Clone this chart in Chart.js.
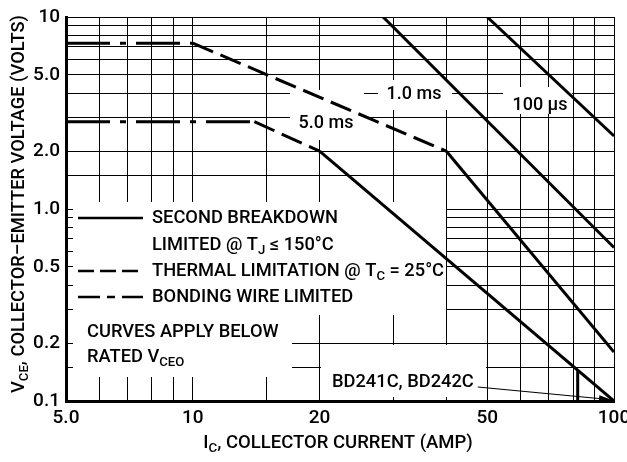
<!DOCTYPE html>
<html>
<head>
<meta charset="utf-8">
<script src="https://cdn.jsdelivr.net/npm/chart.js@4.4.1/dist/chart.umd.min.js"></script>
<style>
  html, body { margin: 0; padding: 0; background: #fff; }
  #wrap { width: 627px; height: 462px; position: relative; }
</style>
</head>
<body>
<div id="wrap"><canvas id="soa"></canvas></div>
<script>
const xGrid = [5, 6, 7, 8, 9, 10, 15, 20, 30, 40, 50, 60, 70, 80, 90, 100];
const yGrid = [0.1, 0.15, 0.2, 0.3, 0.4, 0.5, 0.6, 0.7, 0.8, 0.9, 1, 1.5, 2, 3, 4, 5, 6, 7, 8, 9, 10];
const xTickValues = [5, 10, 20, 50, 100];
const xTickLabels = ['5.0', '10', '20', '50', '100'];
const yTickValues = [0.1, 0.2, 0.5, 1, 2, 5, 10];
const yTickLabels = ['0.1', '0.2', '0.5', '1.0', '2.0', '5.0', '10'];

// curva superior
const upperBondX = [5, 10];     const upperBondY = [7.3, 7.3];
const upperThermX = [10, 40];   const upperThermY = [7.3, 2.0];
const upperSbX = [40, 100];     const upperSbY = [2.0, 0.18];
// curva inferior
const lowerBondX = [5, 14];     const lowerBondY = [2.85, 2.85];
const lowerThermX = [14, 20];   const lowerThermY = [2.85, 2.0];
const lowerSbX = [20, 100];     const lowerSbY = [2.0, 0.1];
// pulsos
const pulse1msX = [28.3, 100];  const pulse1msY = [10, 0.63];
const pulse100usX = [50, 100];  const pulse100usY = [10, 2.4];
// limite BD241C / BD242C
const bdLimitX = [82, 82];      const bdLimitY = [0.145, 0.1];

const FONT = 'Roboto, "Liberation Sans", Arial, sans-serif';
const WEIGHT = '500 ';
const SOLID = [];
const DASH = [22, 8];
const DASHDOT = [44, 10, 6, 10];

function pts(xs, ys) {
    return xs.map((x, i) => ({ x: x, y: ys[i] }));
}

function line(xs, ys, dash) {
    return {
        data: pts(xs, ys),
        showLine: true,
        borderColor: '#000',
        borderWidth: 3,
        borderDash: dash,
        borderCapStyle: 'butt',
        pointRadius: 0,
        fill: false
    };
}

// cajas blancas que tapan la reticula detras de los textos
const whiteBoxes = [
    [73, 202, 446, 315],
    [73, 315, 292, 377],
    [321, 345, 486, 397],
    [378, 80, 452, 110],
    [290, 90, 364, 140],
    [503, 87, 572, 114]
];

function richWidth(ctx, parts, size) {
    let w = 0;
    parts.forEach(p => {
        ctx.font = WEIGHT + (p[1] ? size * 0.72 : size) + 'px ' + FONT;
        w += ctx.measureText(p[0]).width;
    });
    return w;
}

function drawRich(ctx, parts, x, y, size, align) {
    let cx = align === 'center' ? x - richWidth(ctx, parts, size) / 2 : x;
    ctx.textAlign = 'left';
    ctx.textBaseline = 'middle';
    parts.forEach(p => {
        const s = p[1] ? size * 0.72 : size;
        ctx.font = WEIGHT + s + 'px ' + FONT;
        ctx.fillText(p[0], cx, p[1] ? y + size * 0.32 : y);
        cx += ctx.measureText(p[0]).width;
    });
    return cx;
}

const overlay = {
    id: 'overlay',
    beforeDatasetsDraw(chart) {
        const ctx = chart.ctx;
        ctx.save();
        ctx.fillStyle = '#fff';
        whiteBoxes.forEach(b => ctx.fillRect(b[0], b[1], b[2] - b[0], b[3] - b[1]));
        ctx.restore();
    },
    afterDatasetsDraw(chart) {
        const ctx = chart.ctx;
        const xs = chart.scales.x, ys = chart.scales.y;
        ctx.save();
        ctx.fillStyle = '#000';
        ctx.strokeStyle = '#000';

        // etiquetas de las curvas
        drawRich(ctx, [['1.0 ms']], 414, 94, 18, 'center');
        drawRich(ctx, [['5.0 ms']], 326, 123, 18, 'center');
        drawRich(ctx, [['100 µs']], 540, 105, 18, 'center');

        // leyenda
        ctx.lineWidth = 2.5;
        ctx.setLineDash(SOLID);
        ctx.beginPath(); ctx.moveTo(78, 218); ctx.lineTo(143, 218); ctx.stroke();
        ctx.setLineDash([16, 6]);
        ctx.beginPath(); ctx.moveTo(78, 271); ctx.lineTo(143, 271); ctx.stroke();
        ctx.setLineDash([22, 7, 8, 7]);
        ctx.beginPath(); ctx.moveTo(78, 297); ctx.lineTo(143, 297); ctx.stroke();
        ctx.setLineDash([]);

        drawRich(ctx, [['SECOND BREAKDOWN']], 152, 218, 18.3, 'left');
        drawRich(ctx, [['LIMITED @ T'], ['J', true], [' \u2264 150\u00B0C']], 152, 245, 18.3, 'left');
        drawRich(ctx, [['THERMAL LIMITATION @ T'], ['C', true], [' = 25\u00B0C']], 152, 271, 18.3, 'left');
        drawRich(ctx, [['BONDING WIRE LIMITED']], 152, 297, 18.3, 'left');

        drawRich(ctx, [['CURVES APPLY BELOW']], 87, 332, 18.3, 'left');
        drawRich(ctx, [['RATED V'], ['CEO', true]], 87, 357, 18.3, 'left');

        // BD241C, BD242C con flecha
        const endX = drawRich(ctx, [['BD241C, BD242C']], 332, 382, 18.3, 'left');
        const tipX = xs.getPixelForValue(100) - 2;
        const tipY = ys.getPixelForValue(0.1) - 1;
        const tailX = endX + 4, tailY = 387;
        ctx.lineWidth = 1.2;
        ctx.beginPath(); ctx.moveTo(tailX, tailY); ctx.lineTo(tipX - 8, tipY - 1); ctx.stroke();
        const ang = Math.atan2(tipY - tailY, tipX - tailX);
        ctx.beginPath();
        ctx.moveTo(tipX, tipY);
        ctx.lineTo(tipX - 13 * Math.cos(ang) + 3.5 * Math.sin(ang), tipY - 13 * Math.sin(ang) - 3.5 * Math.cos(ang));
        ctx.lineTo(tipX - 13 * Math.cos(ang) - 3.5 * Math.sin(ang), tipY - 13 * Math.sin(ang) + 3.5 * Math.cos(ang));
        ctx.closePath();
        ctx.fill();

        // titulos de los ejes
        drawRich(ctx, [['I'], ['C', true], [', COLLECTOR CURRENT (AMP)']], 338, 443, 18.5, 'center');
        ctx.translate(19, 204);
        ctx.rotate(-Math.PI / 2);
        drawRich(ctx, [['V'], ['CE', true], [', COLLECTOR\u2013EMITTER VOLTAGE (VOLTS)']], 0, 0, 18.3, 'center');
        ctx.restore();
    }
};

new Chart(document.getElementById('soa'), {
    type: 'scatter',
    data: {
        datasets: [
            line(upperBondX, upperBondY, DASHDOT),
            line(upperThermX, upperThermY, DASH),
            line(upperSbX, upperSbY, SOLID),
            line(lowerBondX, lowerBondY, DASHDOT),
            line(lowerThermX, lowerThermY, DASH),
            line(lowerSbX, lowerSbY, SOLID),
            line(pulse1msX, pulse1msY, SOLID),
            line(pulse100usX, pulse100usY, SOLID),
            line(bdLimitX, bdLimitY, SOLID)
        ]
    },
    options: {
        responsive: true,
        maintainAspectRatio: false,
        animation: false,
        layout: { padding: { top: 17, right: 13, left: 0, bottom: 0 } },
        plugins: { legend: { display: false }, tooltip: { enabled: false } },
        scales: {
            x: {
                type: 'logarithmic',
                min: 5,
                max: 100,
                afterBuildTicks: s => { s.ticks = xGrid.map(v => ({ value: v })); },
                afterFit: s => { s.height = 61; s.paddingLeft = 0; s.paddingRight = 0; },
                ticks: {
                    autoSkip: false,
                    maxRotation: 0,
                    padding: 6,
                    color: '#000',
                    font: { family: FONT, size: 19, weight: '500' },
                    callback: v => {
                        const i = xTickValues.indexOf(v);
                        return i < 0 ? '' : xTickLabels[i];
                    }
                },
                grid: { color: '#000', lineWidth: 1, drawTicks: false },
                border: { color: '#000', width: 3 }
            },
            y: {
                type: 'logarithmic',
                min: 0.1,
                max: 10,
                afterBuildTicks: s => { s.ticks = yGrid.map(v => ({ value: v })); },
                afterFit: s => { s.width = 66; s.paddingTop = 0; s.paddingBottom = 0; },
                ticks: {
                    autoSkip: false,
                    padding: 6,
                    color: '#000',
                    font: { family: FONT, size: 19, weight: '500' },
                    callback: v => {
                        const i = yTickValues.indexOf(v);
                        return i < 0 ? '' : yTickLabels[i];
                    }
                },
                grid: { color: '#000', lineWidth: 1, drawTicks: false },
                border: { color: '#000', width: 3 }
            }
        }
    },
    plugins: [overlay]
});
</script>
</body>
</html>
